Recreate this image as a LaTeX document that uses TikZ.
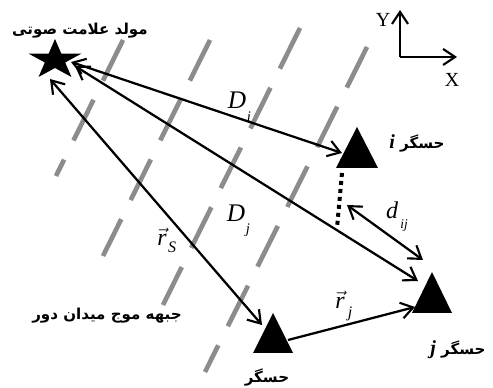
\documentclass[tikz,border=0pt]{standalone}
\usepackage{fontspec}
\setmainfont{Liberation Serif}
\newfontfamily\fa[Script=Arabic]{DejaVu Sans}
\TeXXeTstate=1
\usetikzlibrary{arrows.meta}
\definecolor{wavegray}{RGB}{140,140,140}
\tikzset{
  wave/.style={draw=wavegray, line width=3.5pt, dash pattern=on 34pt off 16pt},
  conn/.style={line width=1.7pt, arrows={Straight Barb[length=9pt,width=12pt,line width=1.6pt]-Straight Barb[length=9pt,width=12pt,line width=1.6pt]}},
  conn1/.style={line width=1.7pt, -{Straight Barb[length=9pt,width=12pt,line width=1.6pt]}},
  fatext/.style={font=\fa\bfseries\fontsize{11.3}{12}\selectfont, inner sep=0pt},
  lbl/.style={inner sep=0pt, font=\fontsize{19}{20}\selectfont\itshape},
  sensor/.style={fill=black}
}
\begin{document}
\begin{tikzpicture}[x=0.75pt,y=-0.75pt]
\useasboundingbox (0,0) rectangle (493,388);
% wave fronts
\draw[wave] (123,40) -- (56,176);
\draw[wave] (210,40) -- (103,256);
\draw[wave] (300,28) -- (163,305);
\draw[wave] (367,47) -- (205,372);
% source star
\fill plot[samples at={0,...,9}] ({55+28*(1-0.618*mod(\x,2))*cos(90+36*\x)}, {60-21*(1-0.618*mod(\x,2))*sin(90+36*\x)}) -- cycle;
\coordinate (src) at (55,60);
% sensors
\fill[sensor] (357,127) -- (378,168) -- (336,168) -- cycle;
\coordinate (si) at (357,155);
\fill[sensor] (432,272) -- (452,313) -- (412,313) -- cycle;
\coordinate (sj) at (432,300);
\fill[sensor] (273,313) -- (293,353) -- (253,353) -- cycle;
\coordinate (ss) at (273,340);
% connector end points
\coordinate (a1) at (71,62);   \coordinate (b1) at (342,153);
\coordinate (a2) at (75,66);   \coordinate (b2) at (418,281);
\coordinate (a3) at (50,79);   \coordinate (b3) at (262,325);
\coordinate (a4) at (347,205); \coordinate (b4) at (423,260);
\coordinate (a5) at (288,340); \coordinate (b5) at (415,307);
\coordinate (p1) at (342,173); \coordinate (p2) at (337,228);
\draw[conn] (a1) -- (b1);
\draw[conn] (a2) -- (b2);
\draw[conn] (a3) -- (b3);
\draw[conn] (a4) -- (b4);
\draw[conn1] (a5) -- (b5);
\draw[line width=3pt, dash pattern=on 3pt off 3pt] (p1) -- (p2);
% axes
\coordinate (o) at (400,57);
\coordinate (ay) at (400,10);
\coordinate (ax) at (457,57);
\draw[conn1] (o) -- (ay);
\draw[conn1] (o) -- (ax);
\node[inner sep=0pt, font=\fontsize{15}{16}\selectfont] (ylab) at (383,20) {Y};
\node[inner sep=0pt, font=\fontsize{15}{16}\selectfont] (xlab) at (452,80) {X};
% labels
\node[fatext] (srclab) at (80,31) {\beginR مولد علامت صوتی\endR};
\node[fatext] (lab-i) at (417,143) {\beginR حسگر {\rmfamily\bfseries\itshape\fontsize{15}{15}\selectfont i}\endR};
\node[fatext] (lab-j) at (458,350) {\beginR حسگر {\rmfamily\bfseries\itshape\fontsize{15}{15}\selectfont j}\endR};
\node[fatext] (lab-s) at (267,377) {\beginR حسگر\endR};
\node[fatext] (wflab) at (107,316) {\beginR جبهه موج میدان دور\endR};
\node[lbl] (Di) at (237,100) {D};
\node[inner sep=0pt, font=\fontsize{11}{11}\selectfont\itshape] (Dis) at (249,117) {i};
\node[lbl] (Dj) at (236,213) {D};
\node[inner sep=0pt, font=\fontsize{11}{11}\selectfont\itshape] (Djs) at (248,230) {j};
\node[inner sep=0pt, font=\fontsize{18}{18}\selectfont\itshape] (dij) at (392,210) {d};
\node[inner sep=0pt, font=\fontsize{10}{10}\selectfont\itshape] (dijs) at (404,226) {ij};
\node[inner sep=0pt, font=\fontsize{18}{18}\selectfont] (rs) at (162,237) {$\vec{\mbox{\itshape r}}$};
\node[inner sep=0pt, font=\fontsize{12}{12}\selectfont\itshape] (rss) at (172,247) {S};
\node[inner sep=0pt, font=\fontsize{18}{18}\selectfont] (rj) at (340,300) {$\vec{\mbox{\itshape r}}$};
\node[inner sep=0pt, font=\fontsize{12}{12}\selectfont\itshape] (rjs) at (350,314) {j};
\end{tikzpicture}
\end{document}
